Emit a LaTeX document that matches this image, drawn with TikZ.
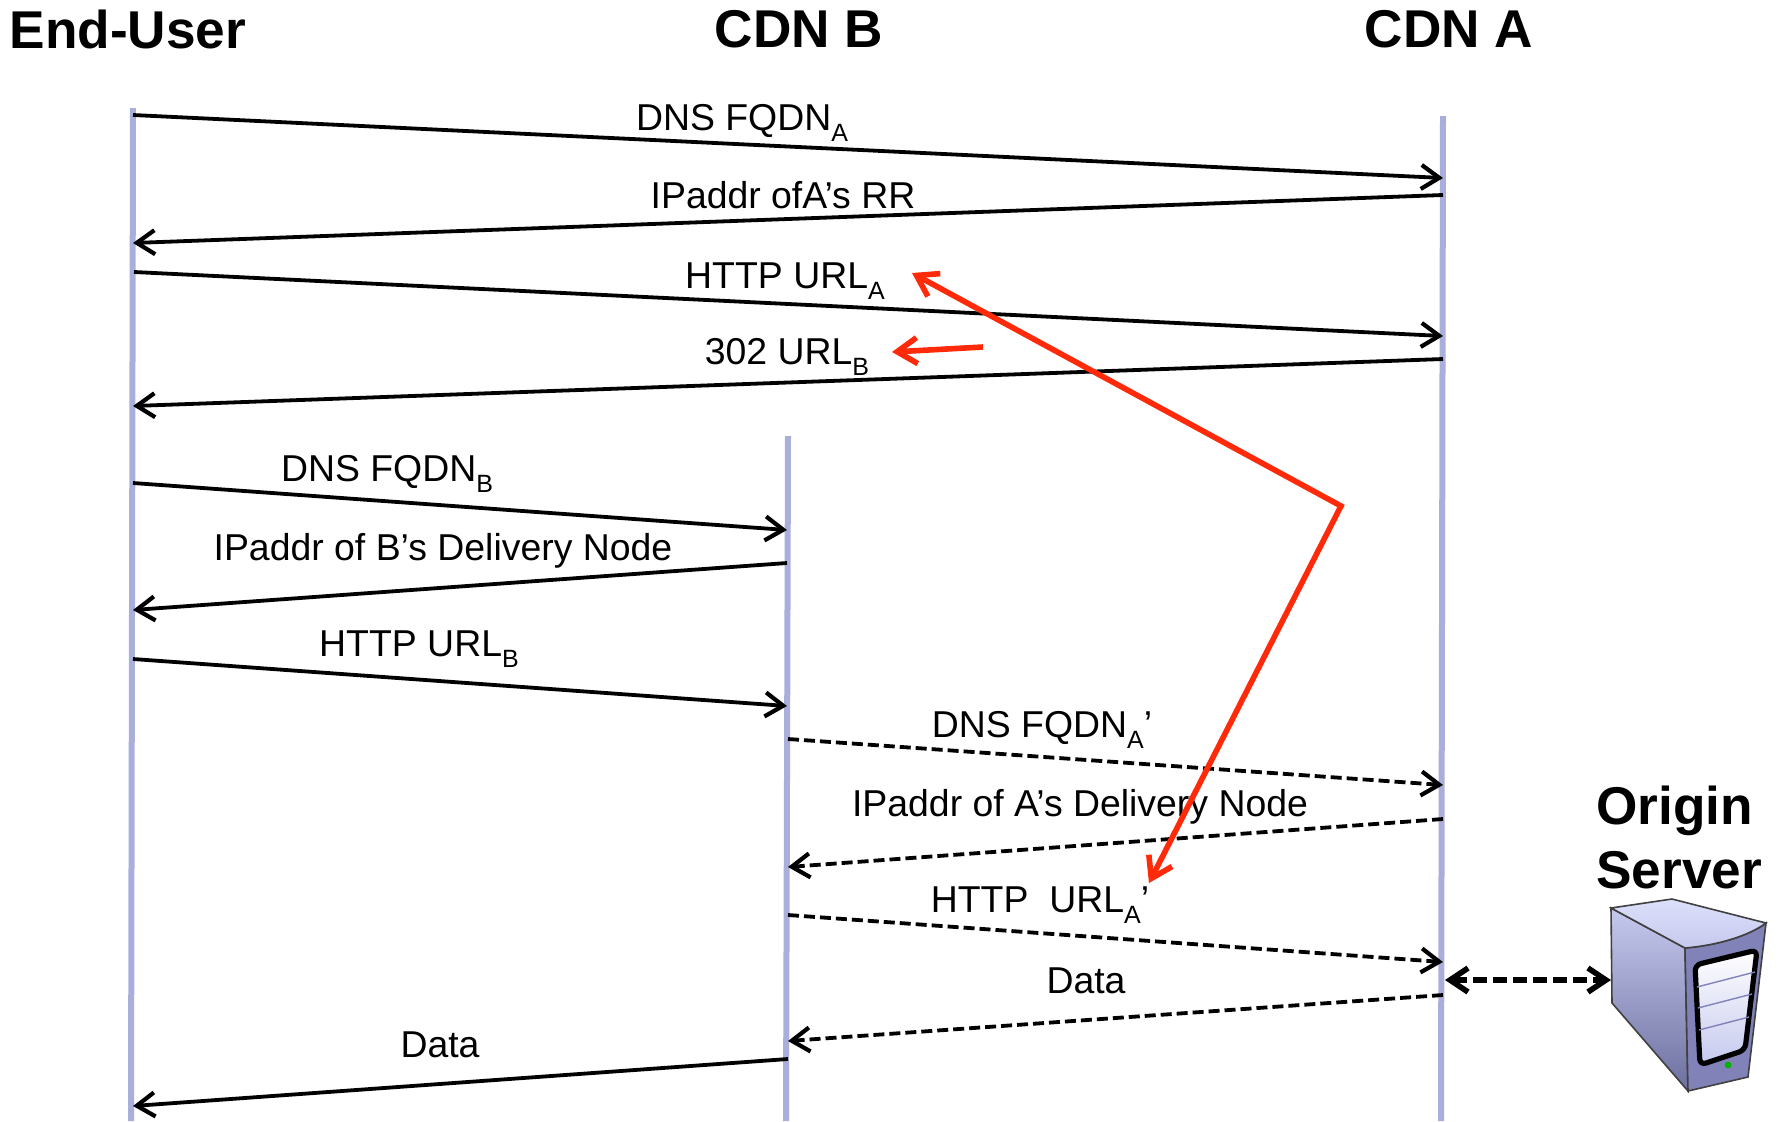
\documentclass[tikz,border=0pt]{standalone}
\usepackage{fontspec}
\usepackage{xcolor}
\setmainfont{Liberation Sans}
\usetikzlibrary{arrows.meta}
\definecolor{lifeblue}{HTML}{AAAEDB}
\definecolor{redline}{HTML}{FF2A0A}
\definecolor{servertop}{HTML}{DDE0FA}
\definecolor{serverside}{HTML}{C6C9EE}
\definecolor{serverdark}{HTML}{6D6F9F}
\definecolor{serverfront}{HTML}{8183B8}
\newcommand{\lowsub}[1]{\raisebox{-0.28em}{\fontsize{12.5}{12.5}\selectfont #1}}
\tikzset {
  % vertical time lines
  life/.style = {lifeblue, line width=3pt},
  % headings above the time lines
  head/.style = {font=\fontsize{26.6}{30}\selectfont\bfseries, inner sep=0pt},
  % labels of the messages
  msg/.style = {font=\fontsize{18.7}{22}\selectfont, inner sep=0pt},
  % messages
  solidmsg/.style = {line width=1.9pt, -{Straight Barb[length=9pt,width=12pt,line width=2.1pt]}},
  dashmsg/.style = {solidmsg, dash pattern=on 5.5pt off 2.5pt},
  % the link to the origin
  originlink/.style = {line width=2.8pt, dash pattern=on 7pt off 3pt, {Straight Barb[length=9pt,width=12pt]}-{Straight Barb[length=9pt,width=12pt]}},
  % red redirection arrows
  redirect/.style = {redline, line width=2.8pt, -{Straight Barb[length=10pt,width=13pt]}},
}
\begin{document}
\begin{tikzpicture}[x=0.5pt, y=-0.5pt]
  \useasboundingbox (0,0) rectangle (1779,1121);

  % time lines
  \coordinate (ut) at (133,108);
  \coordinate (ub) at (131,1121);
  \coordinate (bt) at (788,436);
  \coordinate (bb) at (786,1121);
  \coordinate (at) at (1443,116);
  \coordinate (ab) at (1441,1121);
  \draw[life] (ut) -- (ub);
  \draw[life] (bt) -- (bb);
  \draw[life] (at) -- (ab);

  % headings
  \node[head] (user) at (128,29) {End-User};
  \node[head] (cdnb) at (799,29) {CDN B};
  \node[head] (cdna) at (1449,29) {CDN A};
  \node[head, anchor=west] (origin) at (1596,811) {Origin};
  \node[head, anchor=west] (server) at (1596,870) {Server};

  % message ends
  \coordinate (u1) at (133,115);   \coordinate (a1) at (1443,178);
  \coordinate (a2) at (1443,195);  \coordinate (u2) at (133,243);
  \coordinate (u3) at (134,272);   \coordinate (a3) at (1443,336);
  \coordinate (a4) at (1443,359);  \coordinate (u4) at (133,406);
  \coordinate (u5) at (133,483);   \coordinate (b5) at (787,530);
  \coordinate (b6) at (787,563);   \coordinate (u6) at (133,610);
  \coordinate (u7) at (133,659);   \coordinate (b7) at (787,706);
  \coordinate (b8) at (788,739);   \coordinate (a8) at (1443,785);
  \coordinate (a9) at (1443,819);  \coordinate (b9) at (788,867);
  \coordinate (b10) at (788,915);  \coordinate (a10) at (1443,962);
  \coordinate (a11) at (1443,995); \coordinate (b11) at (788,1041);
  \coordinate (b12) at (788,1059); \coordinate (u12) at (133,1106);

  \draw[solidmsg] (u1) -- (a1);
  \draw[solidmsg] (a2) -- (u2);
  \draw[solidmsg] (u3) -- (a3);
  \draw[solidmsg] (a4) -- (u4);
  \draw[solidmsg] (u5) -- (b5);
  \draw[solidmsg] (b6) -- (u6);
  \draw[solidmsg] (u7) -- (b7);
  \draw[dashmsg] (b8) -- (a8);
  \draw[dashmsg] (a9) -- (b9);
  \draw[dashmsg] (b10) -- (a10);
  \draw[dashmsg] (a11) -- (b11);
  \draw[solidmsg] (b12) -- (u12);

  % labels
  \node[msg] (m1) at (742,123) {DNS FQDN\lowsub{A}};
  \node[msg] (m2) at (783,195) {IPaddr ofA’s RR};
  \node[msg] (m3) at (785,281) {HTTP URL\lowsub{A}};
  \node[msg] (m4) at (787,357) {302 URL\lowsub{B}};
  \node[msg] (m5) at (387,474) {DNS FQDN\lowsub{B}};
  \node[msg] (m6) at (443,551) {IPaddr of B’s Delivery Node};
  \node[msg] (m7) at (419,649) {HTTP URL\lowsub{B}};
  \node[msg] (m8) at (1042,730) {DNS FQDN\lowsub{A}’};
  \node[msg] (m9) at (1080,807) {IPaddr of A’s Delivery Node};
  \node[msg] (m10) at (1040,905) {HTTP\ \ URL\lowsub{A}’};
  \node[msg] (m11) at (1086,981) {Data};
  \node[msg] (m12) at (440,1045) {Data};

  % red arrows
  \coordinate (r1) at (983,347);
  \coordinate (r2) at (892,352);
  \coordinate (r3) at (1341,506);
  \coordinate (r4) at (912,273);
  \coordinate (r5) at (1149,883);
  \draw[redirect] (r1) -- (r2);
  \draw[redirect, {Straight Barb[length=10pt,width=13pt]}-{Straight Barb[length=10pt,width=13pt]}] (r4) -- (r3) -- (r5);

  % origin server
  \coordinate (s1) at (1611,908);
  \coordinate (s2) at (1672,899);
  \coordinate (s3) at (1766,923);
  \coordinate (s4) at (1748,1077);
  \coordinate (s5) at (1688,1091);
  \coordinate (s6) at (1612,1003);
  \coordinate (s7) at (1685,948);
  \draw[black!75, line width=0.8pt, top color=serverside, bottom color=serverdark]
    (s1) -- (s7) -- (s5) -- (s6) -- cycle;
  \draw[black!75, line width=0.8pt, fill=serverfront]
    (s7) .. controls (1720,945) and (1750,935) .. (s3) -- (s4) -- (s5) -- cycle;
  \draw[black!75, line width=0.8pt, top color=servertop, bottom color=serverside]
    (s1) -- (s2) -- (s3) .. controls (1750,935) and (1720,945) .. (s7) -- cycle;
  \coordinate (p1) at (1695,965);
  \coordinate (p2) at (1757,950);
  \coordinate (p3) at (1745,1050);
  \coordinate (p4) at (1700,1065);
  \draw[black, line width=2.6pt, rounded corners=3pt, top color=white, bottom color=serverside]
    (p1) -- (p2) -- (p3) -- (p4) -- cycle;
  \draw[serverfront, line width=0.7pt] (1697,987) -- (1755,972);
  \draw[serverfront, line width=0.7pt] (1698,1008) -- (1752,994);
  \draw[serverfront, line width=0.7pt] (1699,1030) -- (1749,1017);
  \node[circle, fill=green!70!black, inner sep=1.2pt] (led) at (1728,1065) {};

  % link to the origin
  \coordinate (o1) at (1445,980);
  \coordinate (o2) at (1611,980);
  \draw[originlink] (o1) -- (o2);
\end{tikzpicture}
\end{document}
